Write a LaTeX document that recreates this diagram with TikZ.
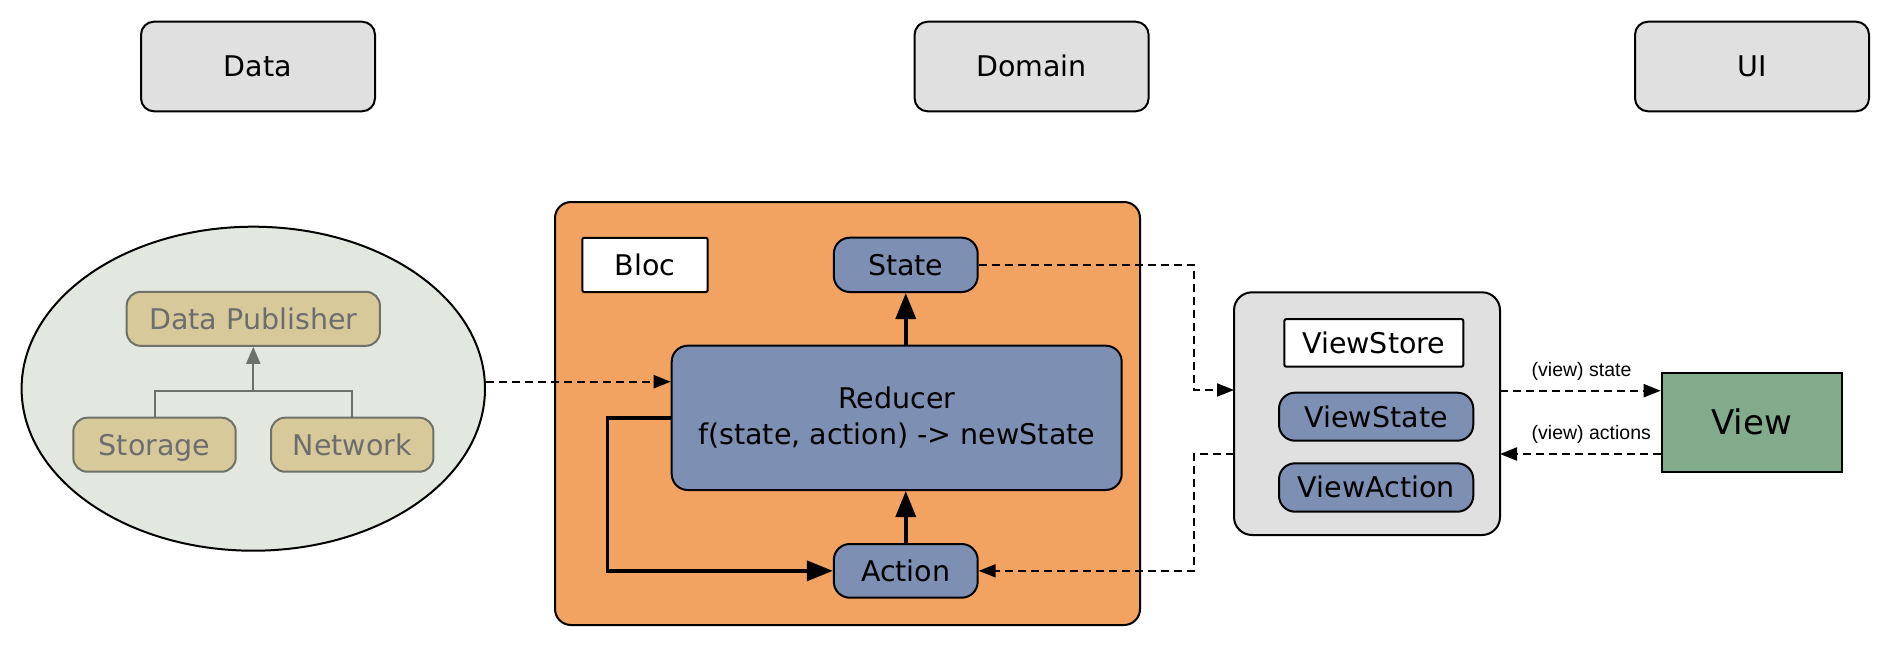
\documentclass[tikz,border=0pt]{standalone}
\usepackage{fontspec}
\setmainfont{DejaVu Sans}
\newfontfamily\labfont{Liberation Sans}
\usetikzlibrary{arrows.meta,calc,shapes.geometric}
\definecolor{grayfill}{HTML}{E0E0E0}
\definecolor{ellfill}{HTML}{E2E7E0}
\definecolor{pubfill}{HTML}{D8C99B}
\definecolor{publine}{HTML}{6D7168}
\definecolor{pubtext}{HTML}{6D6D6D}
\definecolor{blocfill}{HTML}{F2A361}
\definecolor{bluefill}{HTML}{7D8FB3}
\definecolor{viewfill}{HTML}{82AB8B}
\begin{document}
\begin{tikzpicture}[x=1pt,y=-1pt,
  every node/.style={font=\fontsize{28.5}{36}\selectfont, inner sep=0pt, line width=2pt},
  oneline/.style={text height=20.8pt, text depth=0pt},
  layerbox/.style={oneline, draw, fill=grayfill, rounded corners=13pt, minimum width=234pt, minimum height=89.6pt},
  pubbox/.style={oneline, draw=publine, fill=pubfill, text=pubtext, rounded corners=14pt, minimum height=54pt},
  bluebox/.style={draw, fill=bluefill, rounded corners=16pt},
  whitebox/.style={oneline, draw, fill=white, rounded corners=2pt},
  dline/.style={line width=2pt, dash pattern=on 8pt off 5pt},
  dtip/.style={-{Triangle[length=17pt,width=13pt]}},
  thick line/.style={line width=3.5pt, -{Triangle[length=26pt,width=20pt]}},
  gline/.style={line width=2pt, draw=publine},
  edgelabel/.style={font=\labfont\fontsize{19.5}{22}\selectfont, anchor=base west}
]
\useasboundingbox (0,0) rectangle (1892,648);

% layer headers
\node[layerbox] (data) at (258,66.5) {Data};
\node[layerbox] (domain) at (1031.6,66.5) {Domain};
\node[layerbox] (ui) at (1752,66.5) {UI};

% data ellipse
\node[ellipse, draw, fill=ellfill, minimum width=463.4pt, minimum height=324pt] (ell) at (253.3,388.7) {};
\node[pubbox, minimum width=253.3pt] (pub) at (253.3,318.8) {Data Publisher};
\node[pubbox, minimum width=162.4pt] (sto) at (154.5,444.7) {Storage};
\node[pubbox, minimum width=162.4pt] (net) at (352.2,444.7) {Network};
\coordinate (jn) at (253.3,390.7);
\draw[gline] (sto.north) |- (jn) -| (net.north);
\draw[gline, -{Triangle[length=17pt,width=14pt]}, publine] (jn) -- (pub.south);

% bloc
\node[draw, fill=blocfill, rounded corners=16pt, minimum width=585pt, minimum height=423pt] (bloc) at (847.5,413.5) {};
\node[whitebox, minimum width=125.4pt, minimum height=54.3pt] (bloclabel) at (645,264.9) {Bloc};
\node[bluebox, oneline, minimum width=143.9pt, minimum height=54.3pt] (st) at (905.75,264.85) {State};
\node[bluebox, minimum width=450pt, minimum height=144.3pt, align=center] (red) at (896.7,417.85) {Reducer\\f(state, action) -> newState};
\node[bluebox, oneline, minimum width=143.9pt, minimum height=53.7pt] (act) at (905.75,570.85) {Action};

\draw[thick line] (red.north -| st.south) -- (st.south);
\draw[thick line] (act.north) -- (act.north |- red.south);
\draw[thick line] (red.west) -- ++(-63,0) |- (act.west);

% data -> reducer
\coordinate (e1) at ($(ell.east)+(0,-7)$);
\draw[dline, dtip] (e1) -- (e1 -| red.west);

% view store
\node[draw, fill=grayfill, rounded corners=18pt, minimum width=266pt, minimum height=242.7pt] (vs) at (1367,413.65) {};
\node[whitebox, minimum width=179pt, minimum height=47.7pt] (vslabel) at (1373.8,342.85) {ViewStore};
\node[bluebox, oneline, minimum width=194.3pt, minimum height=48pt] (vst) at (1376.15,416.7) {ViewState};
\node[bluebox, oneline, minimum width=194.3pt, minimum height=48.4pt] (vac) at (1376.15,487.5) {ViewAction};

% view
\node[draw, fill=viewfill, minimum width=180pt, minimum height=99pt, font=\fontsize{34}{40}\selectfont, text height=24.8pt, text depth=0pt] (view) at (1751.7,422.2) {View};

% state -> viewstore
\coordinate (vsin) at (1234,390);
\draw[dline, dtip] (st.east) -- (1194,264.85) |- (vsin);
% viewstore -> action
\coordinate (vsout) at (1234,454);
\draw[dline, dtip] (vsout) -- (1194,454) |- (act.east);

% viewstore <-> view
\coordinate (vsr1) at (1500,390.7);
\coordinate (vsr2) at (1500,454);
\draw[dline, dtip] (vsr1) -- (vsr1 -| view.west);
\draw[dline, dtip] (vsr2 -| view.west) -- (vsr2);
\node[edgelabel] (lab1) at (1530.7,376.7) {(view) state};
\node[edgelabel] (lab2) at (1530.7,439) {(view) actions};
\end{tikzpicture}
\end{document}
